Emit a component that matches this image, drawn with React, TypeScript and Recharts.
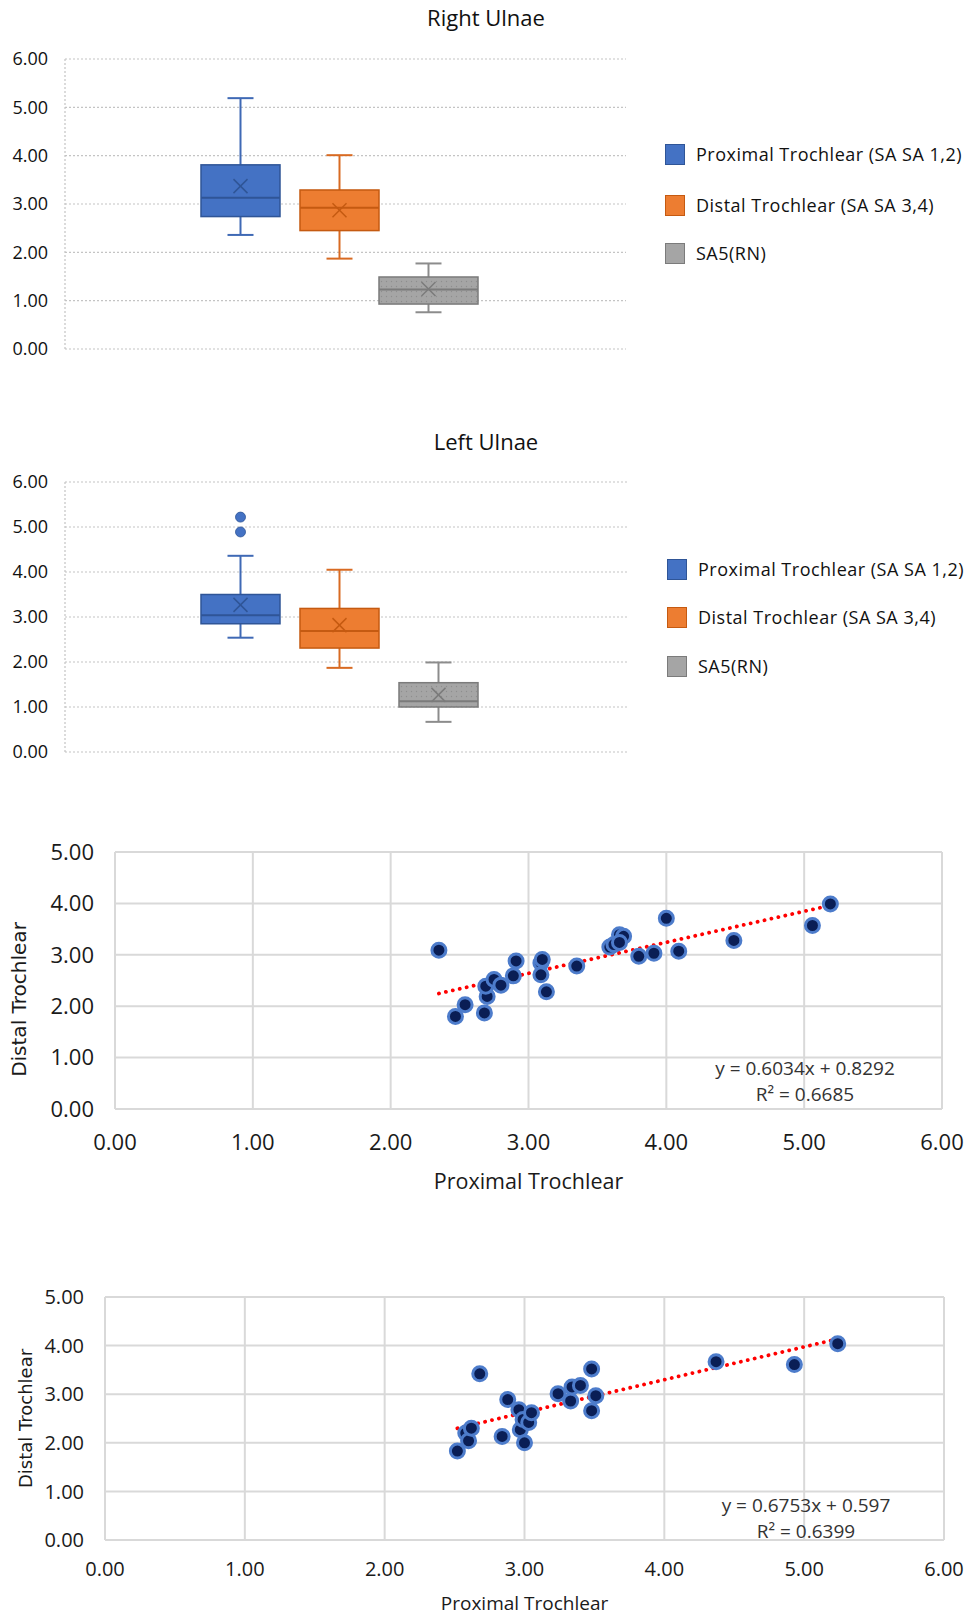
import React from 'react';
import {
  ComposedChart,
  Bar,
  XAxis,
  YAxis,
  CartesianGrid,
  ScatterChart,
  Scatter,
  ReferenceLine,
} from 'recharts';

// ---------- Box plot data ----------
const boxSeries = ['Proximal Trochlear (SA SA 1,2)', 'Distal Trochlear (SA SA 3,4)', 'SA5(RN)'];
const boxYTicks = [0, 1, 2, 3, 4, 5, 6];

// Right Ulnae
const rightMin = [2.36, 1.87, 0.76];
const rightQ1 = [2.74, 2.45, 0.93];
const rightMedian = [3.13, 2.92, 1.23];
const rightQ3 = [3.81, 3.29, 1.49];
const rightMax = [5.19, 4.01, 1.77];
const rightMean = [3.37, 2.87, 1.24];
const rightOutliers: number[][] = [[], [], []];

// Left Ulnae
const leftMin = [2.54, 1.87, 0.67];
const leftQ1 = [2.85, 2.31, 1.0];
const leftMedian = [3.04, 2.69, 1.13];
const leftQ3 = [3.5, 3.19, 1.54];
const leftMax = [4.36, 4.05, 1.99];
const leftMean = [3.27, 2.82, 1.27];
const leftOutliers: number[][] = [[5.22, 4.89], [], []];

// ---------- Scatter data ----------
const scatterXTicks = [0, 1, 2, 3, 4, 5, 6];
const scatterYTicks = [0, 1, 2, 3, 4, 5];

const rightProximal = [2.35, 2.47, 2.54, 2.68, 2.7, 2.69, 2.75, 2.8, 2.89, 2.91, 3.09, 3.1, 3.09, 3.13, 3.35, 3.59, 3.62, 3.66, 3.69, 3.66, 3.8, 3.91, 4.0, 4.09, 4.49, 5.06, 5.19];
const rightDistal = [3.09, 1.8, 2.03, 1.87, 2.19, 2.39, 2.52, 2.41, 2.59, 2.88, 2.84, 2.91, 2.61, 2.28, 2.78, 3.15, 3.2, 3.39, 3.36, 3.24, 2.97, 3.03, 3.71, 3.07, 3.28, 3.57, 3.99];
const rightSlope = 0.6034;
const rightIntercept = 0.8292;
const rightEquation = 'y = 0.6034x + 0.8292';
const rightR2 = 'R² = 0.6685';

const leftProximal = [2.52, 2.58, 2.6, 2.62, 2.68, 2.84, 2.88, 2.96, 2.97, 2.99, 3.0, 3.03, 3.05, 3.24, 3.33, 3.34, 3.4, 3.48, 3.48, 3.51, 4.37, 4.93, 5.24];
const leftDistal = [1.83, 2.2, 2.04, 2.3, 3.42, 2.13, 2.89, 2.68, 2.27, 2.48, 2.0, 2.42, 2.62, 3.01, 2.86, 3.15, 3.18, 2.66, 3.52, 2.97, 3.67, 3.61, 4.04];
const leftSlope = 0.6753;
const leftIntercept = 0.597;
const leftEquation = 'y = 0.6753x + 0.597';
const leftR2 = 'R² = 0.6399';

// ---------- Styles ----------
const FONT = '"Open Sans", "DejaVu Sans", sans-serif';
const boxFill = ['#4472C4', '#ED7D31', '#A5A5A5'];
const boxStroke = ['#2F5597', '#C55A11', '#7B7B7B'];
const whiskerStroke = ['#3F69B5', '#D86A22', '#8C8C8C'];

type Stats = { min: number[]; q1: number[]; median: number[]; q3: number[]; max: number[]; mean: number[]; outliers: number[][] };

const rightStats: Stats = { min: rightMin, q1: rightQ1, median: rightMedian, q3: rightQ3, max: rightMax, mean: rightMean, outliers: rightOutliers };
const leftStats: Stats = { min: leftMin, q1: leftQ1, median: leftMedian, q3: leftQ3, max: leftMax, mean: leftMean, outliers: leftOutliers };

function buildRow(name: string, s: Stats) {
  const row: any = { name };
  boxSeries.forEach((_, i) => {
    row['s' + i] = [s.min[i], s.max[i]];
  });
  return row;
}

const makeBoxShape = (s: Stats, i: number, extendLeft: number, id: string) => (props: any) => {
  const { x, y, width, height } = props;
  if (x == null || y == null) return null;
  const top = Math.min(y, y + height);
  const bottom = Math.max(y, y + height);
  const lo = s.min[i];
  const hi = s.max[i];
  const pix = (v: number) => bottom - ((v - lo) / (hi - lo)) * (bottom - top);
  const left = x - extendLeft;
  const right = x + width;
  const cx = (left + right) / 2;
  const yq1 = pix(s.q1[i]);
  const yq3 = pix(s.q3[i]);
  const ymed = pix(s.median[i]);
  const ymean = pix(s.mean[i]);
  const ymin = pix(s.min[i]);
  const ymax = pix(s.max[i]);
  const cap = 13;
  const xs = 7;
  const fill = i === 2 ? `url(#dots-${id})` : boxFill[i];
  return (
    <g>
      {i === 2 && (
        <defs>
          <pattern id={`dots-${id}`} width={5} height={5} patternUnits="userSpaceOnUse">
            <rect width={5} height={5} fill="#A5A5A5" />
            <circle cx={1.5} cy={1.5} r={0.7} fill="#8E8E8E" />
          </pattern>
        </defs>
      )}
      <line x1={cx} x2={cx} y1={yq3} y2={ymax} stroke={whiskerStroke[i]} strokeWidth={2} />
      <line x1={cx} x2={cx} y1={yq1} y2={ymin} stroke={whiskerStroke[i]} strokeWidth={2} />
      <line x1={cx - cap} x2={cx + cap} y1={ymax} y2={ymax} stroke={whiskerStroke[i]} strokeWidth={2} />
      <line x1={cx - cap} x2={cx + cap} y1={ymin} y2={ymin} stroke={whiskerStroke[i]} strokeWidth={2} />
      <rect x={left} y={yq3} width={right - left} height={yq1 - yq3} fill={fill} stroke={boxStroke[i]} strokeWidth={1.5} />
      <line x1={left} x2={right} y1={ymed} y2={ymed} stroke={boxStroke[i]} strokeWidth={2} />
      <line x1={cx - xs} x2={cx + xs} y1={ymean - xs} y2={ymean + xs} stroke={boxStroke[i]} strokeWidth={1.5} />
      <line x1={cx - xs} x2={cx + xs} y1={ymean + xs} y2={ymean - xs} stroke={boxStroke[i]} strokeWidth={1.5} />
      {s.outliers[i].map((v, k) => (
        <circle key={k} cx={cx} cy={pix(v)} r={5} fill={boxFill[i]} stroke={boxStroke[i]} strokeWidth={0.8} />
      ))}
    </g>
  );
};

function BoxChart({ title, stats, id, top, height, marginTop, marginBottom, marginRight, padRight, grayExtend, titleY, legendTop, legendLeft }: any) {
  const data = [buildRow(title, stats)];
  return (
    <div style={{ position: 'absolute', left: 0, top, width: 968, height }}>
      <div
        style={{
          position: 'absolute',
          left: 386,
          width: 200,
          top: titleY - top - 15,
          height: 30,
          lineHeight: '30px',
          textAlign: 'center',
          fontFamily: FONT,
          fontSize: 22,
          color: '#111',
        }}
      >
        {title}
      </div>
      <ComposedChart width={968} height={height} data={data} margin={{ top: marginTop, right: marginRight, bottom: marginBottom, left: 0 }} barGap={20}>
        <CartesianGrid vertical={false} stroke="#C4C4C4" strokeDasharray="2 2" strokeWidth={1.2} />
        <XAxis dataKey="name" type="category" hide padding={{ left: 0, right: padRight }} />
        <YAxis
          type="number"
          domain={[0, 6]}
          ticks={boxYTicks}
          width={65}
          tickSize={0}
          tickMargin={17}
          tickFormatter={(v: number) => v.toFixed(2)}
          tick={{ fontSize: 18, fontFamily: FONT, fill: '#111' }}
          axisLine={{ stroke: '#C4C4C4', strokeDasharray: '2 2', strokeWidth: 1.2 }}
          tickLine={false}
          interval={0}
        />
        {boxSeries.map((name, i) => (
          <Bar
            key={name}
            name={name}
            dataKey={'s' + i}
            barSize={79}
            isAnimationActive={false}
            shape={makeBoxShape(stats, i, i === 2 ? grayExtend : 0, id)}
          />
        ))}
      </ComposedChart>
      {boxSeries.map((name, i) => (
        <div
          key={name}
          style={{
            position: 'absolute',
            left: legendLeft,
            top: legendTop[i] - top - 14,
            height: 28,
            display: 'flex',
            alignItems: 'center',
            fontFamily: FONT,
            fontSize: 18,
            letterSpacing: 0.5,
            color: '#111',
            whiteSpace: 'nowrap',
          }}
        >
          <span
            style={{
              display: 'inline-block',
              width: 18,
              height: 19,
              background: boxFill[i],
              border: `1px solid ${boxStroke[i]}`,
              marginRight: 11,
            }}
          />
          {name}
        </div>
      ))}
    </div>
  );
}

const Marker = (props: any) => {
  const { cx, cy } = props;
  if (cx == null || cy == null) return null;
  return <circle cx={cx} cy={cy} r={7} fill="#0A1E55" stroke="#4D7CCB" strokeWidth={3} />;
};

function ScatterPanel({ xs, ys, slope, intercept, eq, r2, top, height, marginTop, marginRight, xAxisHeight, yAxisWidth, fontSize, titleSize, eqSize, tickMarginX, tickMarginY, xTitleDy, yTitleX, yTitleDy, yTitleSize, eqX, eqY, r2Y }: any) {
  const data = xs.map((x: number, i: number) => ({ x, y: ys[i] }));
  const x0 = Math.min(...xs);
  const x1 = Math.max(...xs);
  const tickStyle = { fontSize, fontFamily: FONT, fill: '#1a1a1a' };
  return (
    <div style={{ position: 'absolute', left: 0, top, width: 968, height }}>
      <ScatterChart width={968} height={height} margin={{ top: marginTop, right: marginRight, bottom: 0, left: 0 }}>
        <CartesianGrid stroke="#D9D9D9" strokeWidth={2} />
        <XAxis
          type="number"
          dataKey="x"
          domain={[0, 6]}
          ticks={scatterXTicks}
          interval={0}
          height={xAxisHeight}
          axisLine={false}
          tickLine={false}
          tickSize={0}
          tickMargin={tickMarginX}
          tickFormatter={(v: number) => v.toFixed(2)}
          tick={tickStyle}
          label={{
            content: (p: any) => {
              const vb = p.viewBox || {};
              return (
                <text x={vb.x + vb.width / 2} y={vb.y + xTitleDy} textAnchor="middle" dominantBaseline="central" fontFamily={FONT} fontSize={titleSize} fill="#1a1a1a">
                  Proximal Trochlear
                </text>
              );
            },
          }}
        />
        <YAxis
          type="number"
          dataKey="y"
          domain={[0, 5]}
          ticks={scatterYTicks}
          interval={0}
          width={yAxisWidth}
          axisLine={false}
          tickLine={false}
          tickSize={0}
          tickMargin={tickMarginY}
          tickFormatter={(v: number) => v.toFixed(2)}
          tick={tickStyle}
          label={{
            content: (p: any) => {
              const vb = p.viewBox || {};
              const cx = vb.x + yTitleX;
              const cy = vb.y + vb.height / 2 + yTitleDy;
              return (
                <text x={cx} y={cy} transform={`rotate(-90, ${cx}, ${cy})`} textAnchor="middle" dominantBaseline="central" fontFamily='"DejaVu Sans", sans-serif' fontSize={yTitleSize} fill="#1a1a1a">
                  Distal Trochlear
                </text>
              );
            },
          }}
        />
        <Scatter data={data} isAnimationActive={false} shape={Marker} />
        <ReferenceLine
          segment={[
            { x: x0, y: slope * x0 + intercept },
            { x: x1, y: slope * x1 + intercept },
          ]}
          stroke="#FF0000"
          strokeWidth={3.8}
          strokeDasharray="0.1 7"
          strokeLinecap="round"
        />
      </ScatterChart>
      {[eq, r2].map((t: string, k: number) => (
        <div
          key={t}
          style={{
            position: 'absolute',
            left: eqX - 150,
            width: 300,
            top: (k === 0 ? eqY : r2Y) - top - 13,
            height: 26,
            lineHeight: '26px',
            textAlign: 'center',
            fontFamily: FONT,
            fontSize: eqSize,
            color: '#333',
          }}
        >
          {t}
        </div>
      ))}
    </div>
  );
}

export default function App() {
  return (
    <div style={{ position: 'absolute', left: 0, top: 0, width: 968, height: 1615, background: '#fff', overflow: 'hidden' }}>
      <BoxChart
        title="Right Ulnae"
        stats={rightStats}
        id="right"
        top={0}
        height={380}
        marginTop={59}
        marginBottom={31}
        marginRight={342}
        padRight={12}
        grayExtend={20}
        titleY={17}
        legendTop={[154, 205, 253]}
        legendLeft={665}
      />
      <BoxChart
        title="Left Ulnae"
        stats={leftStats}
        id="left"
        top={420}
        height={360}
        marginTop={62}
        marginBottom={28}
        marginRight={340}
        padRight={14}
        grayExtend={0}
        titleY={441}
        legendTop={[569, 617, 666]}
        legendLeft={667}
      />
      <ScatterPanel
        xs={rightProximal}
        ys={rightDistal}
        slope={rightSlope}
        intercept={rightIntercept}
        eq={rightEquation}
        r2={rightR2}
        top={820}
        height={400}
        marginTop={32}
        marginRight={26}
        xAxisHeight={111}
        yAxisWidth={115}
        fontSize={22}
        titleSize={21.5}
        eqSize={19}
        tickMarginX={25}
        tickMarginY={21}
        xTitleDy={71}
        yTitleX={19}
        yTitleDy={19}
        yTitleSize={20}
        eqX={805}
        eqY={1068}
        r2Y={1094}
      />
      <ScatterPanel
        xs={leftProximal}
        ys={leftDistal}
        slope={leftSlope}
        intercept={leftIntercept}
        eq={leftEquation}
        r2={leftR2}
        top={1260}
        height={355}
        marginTop={37}
        marginRight={24}
        xAxisHeight={75}
        yAxisWidth={105}
        fontSize={20}
        titleSize={19}
        eqSize={19}
        tickMarginX={22}
        tickMarginY={21}
        xTitleDy={63}
        yTitleX={25}
        yTitleDy={0}
        yTitleSize={18}
        eqX={806}
        eqY={1505}
        r2Y={1531}
      />
    </div>
  );
}
